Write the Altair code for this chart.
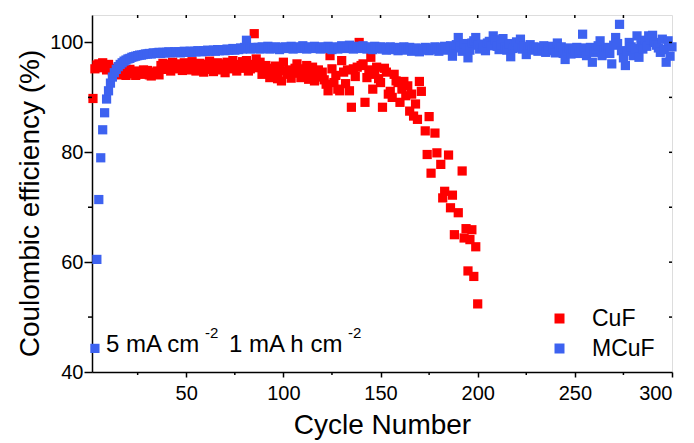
import altair as alt
import pandas as pd

FONT = "Liberation Sans"

# ---------------- data ----------------
# CuF: cycles 2..149 consecutive, then explicit cycles for the failing tail
cuf_a = [89.8]                                                       # 2
cuf_b = [95.2, 95.9, 96.1, 95.4, 96.3, 95.7, 95.0, 96.0, 95.3]        # 3-11
cuf_c = [94.8, 94.3, 95.0, 94.6, 94.1, 94.9, 94.4, 94.0, 94.7, 95.1,
         94.3, 94.6, 94.0, 94.8, 94.5, 94.2, 95.0, 94.4, 94.9, 94.1,
         93.9, 94.6, 94.3, 94.8, 94.1]                                # 12-36
cuf_d = [95.8, 96.2, 95.1, 96.0, 95.5, 94.8, 96.4, 95.9, 95.2, 96.1,
         95.6, 94.9, 96.3, 95.4, 96.0, 95.0, 96.5, 95.7, 94.8, 95.9,
         96.2, 95.3, 94.6, 96.0, 95.5, 96.6, 95.1, 94.7, 95.8, 96.3,
         95.0, 96.1, 95.6, 94.5, 96.4, 95.2, 95.9, 96.7, 95.3, 94.8,
         96.0, 95.7, 96.5]                                            # 37-79
cuf_e = [95.3, 96.7, 94.8, 95.2, 96.0, 101.6, 97.0, 95.4, 96.4, 94.2,
         95.1, 95.8, 94.6, 93.6, 95.3, 94.0, 95.7, 93.4, 94.9, 93.0,
         96.4]                                                        # 80-100
cuf_f = [94.8, 94.2, 95.0, 93.5, 94.6, 95.3, 96.1, 94.4, 93.6, 95.2,
         94.0, 95.8, 93.3, 94.7, 95.5, 93.0, 94.3, 95.0, 93.7, 94.6,
         93.2, 92.4, 91.2, 97.6, 95.2, 92.7, 94.0, 91.5, 91.2, 96.7]  # 101-130
cuf_g = [94.6, 92.5, 95.0, 91.2, 88.2, 95.2, 93.8, 95.5, 100.0, 95.8,
         96.1, 89.1, 93.6, 95.0, 97.3, 91.5, 94.2, 95.5, 93.4]        # 131-149
cuf_tail_cycles = [150, 151, 152, 153, 154, 155, 156, 157, 158, 159,
                   160, 161, 162, 163, 164, 165, 166, 167, 168, 169,
                   170, 171, 173, 174, 175, 176, 178, 179, 181, 182,
                   183, 185, 186, 187, 188, 190, 192, 193, 194, 195,
                   196, 197, 198, 199, 200]
cuf_tail = [92.7, 88.2, 95.3, 94.6, 90.6, 91.1, 90.0, 94.2, 93.0, 92.7,
            89.1, 91.5, 92.9, 90.3, 92.1, 87.5, 90.6, 86.6, 88.8, 86.0,
            92.9, 91.1, 83.9, 79.6, 86.5, 76.2, 83.5, 79.9, 77.8, 71.7,
            72.9, 79.5, 69.9, 72.2, 65.0, 69.0, 76.6, 64.4, 66.1, 58.4,
            64.1, 65.9, 57.4, 62.8, 52.4]

# MCuF: cycles 3..300 consecutive
mcuf_a = [44.3, 60.5, 71.4, 79.0, 84.1, 87.2, 89.7, 91.2, 92.6, 93.7,
          94.5, 95.1, 95.6, 96.0, 96.3, 96.6, 96.8, 97.0, 97.1, 97.3,
          97.4, 97.5, 97.6, 97.7, 97.7, 97.8, 97.9, 97.9]             # 3-30
mcuf_b = [98.0, 97.9, 98.1, 98.0, 98.1, 98.2, 98.0, 98.2, 98.1, 98.2,
          98.3, 98.1, 98.2, 98.3, 98.2, 98.3, 98.1, 98.3, 98.4, 98.2]  # 31-50
mcuf_c = [98.3, 98.4, 98.2, 98.4, 98.3, 98.5, 98.4, 98.3, 98.5, 98.4,
          98.6, 98.4, 98.5, 98.6, 98.4, 98.7, 98.5, 98.6, 98.7, 98.5,
          98.8, 98.6, 98.7, 98.9, 98.6, 98.8, 98.7, 99.0, 98.8]        # 51-79
mcuf_d = [99.1, 100.4, 99.0, 98.8, 99.1, 98.9]                        # 80-85
mcuf_e = [98.9, 99.1, 98.8, 99.2, 98.9, 99.0, 99.3, 98.8, 99.1, 98.9,
          99.2, 99.0, 98.7, 99.1, 99.0]                               # 86-100
mcuf_f = [99.2, 98.9, 99.1, 99.3, 98.8, 99.0, 99.2, 98.9, 99.1, 99.4,
          99.0, 98.8, 99.2, 99.1, 98.9, 99.3, 99.0, 99.1, 98.8, 99.2]  # 101-120
mcuf_g = [98.9, 99.1, 99.3, 98.9, 98.7, 99.0, 99.2, 98.8, 99.1, 99.4,
          99.0, 98.9, 99.2, 99.5, 99.1, 98.8, 99.3, 99.0, 99.2, 98.9,
          99.4, 99.1, 98.8, 99.2, 99.0, 98.7, 99.3, 99.1, 98.9, 99.2]  # 121-150
mcuf_h = [98.8, 99.1, 98.6, 99.0, 99.2, 98.7, 98.9, 99.1, 98.5, 99.0,
          98.8, 99.2, 98.6, 98.9, 99.1, 98.4, 98.8, 99.0, 98.7, 98.3,
          98.9, 98.6, 99.1, 98.8, 98.5, 99.0, 98.7, 99.2, 98.9, 98.4,
          99.1, 98.8, 99.3, 98.6, 98.9, 99.4]                         # 151-186
mcuf_i = [97.5, 99.0, 99.6, 100.9, 99.3, 98.4, 99.8, 98.9, 97.2, 98.6,
          99.9, 100.3, 100.9, 99.5, 98.8, 99.7, 99.0, 98.5, 99.9, 100.2,
          99.4, 101.2, 100.5, 99.3, 98.7, 99.6, 100.7, 99.1, 98.6, 99.8,
          97.4, 98.9, 99.5, 100.1, 99.0, 100.6, 98.8, 99.3, 97.8, 99.0,
          99.6, 98.6, 99.2, 98.9]                                     # 187-230
mcuf_j = [98.4, 99.1, 98.7, 99.4, 98.2, 99.0, 98.5, 99.3, 98.8, 98.1,
          99.9, 98.6, 99.2, 98.0, 96.9, 98.4, 99.0, 97.9, 98.8, 98.3,
          99.1, 98.0, 98.7, 101.5, 99.0, 97.6, 98.5, 99.1, 96.4, 98.2,
          98.8, 99.4, 100.3, 97.6, 98.6, 99.0, 99.1, 98.0, 96.1, 99.5,
          100.9, 99.8, 103.3, 98.5, 97.2, 95.8, 98.4, 100.0, 99.2, 97.6,
          98.9, 101.2, 97.3, 99.6, 98.8, 100.4, 99.3, 101.2, 100.5, 101.3,
          100.0, 99.5, 99.0, 98.2, 100.6, 98.7, 96.4, 100.3, 97.5, 99.2]  # 231-300

series_names = ["CuF", "MCuF"]
series_colors = ["#ff0000", "#3d62f0"]

x_ticks_major = [50, 100, 150, 200, 250, 300]
x_ticks_minor = [25, 75, 125, 175, 225, 275]
x_ticks_top = [25, 50, 75, 100, 125, 150, 175, 200, 225, 250, 275]
y_ticks_major = [40, 60, 80, 100]
y_ticks_minor = [50, 70, 90]
y_ticks_right = [50, 60, 70, 80, 90, 100]

# ---------------- tables ----------------
cuf_vals = cuf_a + cuf_b + cuf_c + cuf_d + cuf_e + cuf_f + cuf_g + cuf_tail
cuf_cyc = list(range(2, 150)) + cuf_tail_cycles
mcuf_vals = (mcuf_a + mcuf_b + mcuf_c + mcuf_d + mcuf_e + mcuf_f + mcuf_g
             + mcuf_h + mcuf_i + mcuf_j)
mcuf_cyc = list(range(3, 3 + len(mcuf_vals)))

df = pd.DataFrame(
    [{"series": "CuF", "cycle": c, "ce": v} for c, v in zip(cuf_cyc, cuf_vals)]
    + [{"series": "MCuF", "cycle": c, "ce": v} for c, v in zip(mcuf_cyc, mcuf_vals)]
)

W, H = 580, 357
xscale = alt.Scale(domain=[1.5, 300], nice=False, zero=False)
yscale = alt.Scale(domain=[40, 105], nice=False, zero=False)

axis_common = dict(grid=False, domainColor="black", tickColor="black",
                   domainWidth=1.5, tickWidth=1.5, labelColor="black",
                   titleColor="black", labelFont=FONT, titleFont=FONT,
                   titleFontWeight="normal")
x_axis = alt.Axis(values=x_ticks_major, tickSize=5, labelFontSize=20,
                  labelPadding=6, title="Cycle Number", titleFontSize=28,
                  titleY=61, titleBaseline="alphabetic", **axis_common)
y_axis = alt.Axis(values=y_ticks_major, tickSize=8, labelFontSize=20,
                  labelPadding=1, title="Coulombic efficiency (%)",
                  titleFontSize=28, titleX=-54, titleY=188,
                  titleAlign="center", titleBaseline="alphabetic",
                  **axis_common)

points = alt.Chart(df).mark_point(
    shape="square", filled=True, size=85, opacity=1, strokeWidth=0
).encode(
    x=alt.X("cycle:Q", scale=xscale, axis=x_axis, title="Cycle Number"),
    y=alt.Y("ce:Q", scale=yscale, axis=y_axis, title="Coulombic efficiency (%)"),
    color=alt.Color("series:N",
                    scale=alt.Scale(domain=series_names, range=series_colors),
                    legend=alt.Legend(orient="none", legendX=456, legendY=292,
                                      title=None, symbolType="square",
                                      symbolSize=100, symbolStrokeWidth=0,
                                      labelFontSize=23, labelFont=FONT,
                                      labelColor="black", labelOffset=21,
                                      rowPadding=6, padding=0)),
)

df_xmin = pd.DataFrame({"t": x_ticks_minor})
df_xtop = pd.DataFrame({"t": x_ticks_top})
df_ymin = pd.DataFrame({"t": y_ticks_minor})
df_yright = pd.DataFrame({"t": y_ticks_right})

rule_style = dict(color="black", strokeWidth=1.5)
x_minor = alt.Chart(df_xmin).mark_rule(**rule_style).encode(
    x=alt.X("t:Q", scale=xscale, axis=x_axis, title="Cycle Number"),
    y=alt.value(H), y2=alt.value(H + 3))
x_top = alt.Chart(df_xtop).mark_rule(**rule_style).encode(
    x=alt.X("t:Q", scale=xscale, axis=x_axis, title="Cycle Number"),
    y=alt.value(0), y2=alt.value(3))
y_minor = alt.Chart(df_ymin).mark_rule(**rule_style).encode(
    y=alt.Y("t:Q", scale=yscale, axis=y_axis, title="Coulombic efficiency (%)"),
    x=alt.value(-4), x2=alt.value(0))
y_right = alt.Chart(df_yright).mark_rule(**rule_style).encode(
    y=alt.Y("t:Q", scale=yscale, axis=y_axis, title="Coulombic efficiency (%)"),
    x=alt.value(W - 3), x2=alt.value(W))

txt = dict(font=FONT, color="black", align="left", baseline="alphabetic")
ann1 = alt.Chart().mark_text(text="5 mA cm", fontSize=24, **txt).encode(
    x=alt.value(14), y=alt.value(337))
ann2 = alt.Chart().mark_text(text="-2", fontSize=15, **txt).encode(
    x=alt.value(113), y=alt.value(323))
ann3 = alt.Chart().mark_text(text="1 mA h cm", fontSize=24, **txt).encode(
    x=alt.value(137), y=alt.value(337))
ann4 = alt.Chart().mark_text(text="-2", fontSize=15, **txt).encode(
    x=alt.value(256), y=alt.value(323))

chart = alt.layer(
    points, x_minor, x_top, y_minor, y_right, ann1, ann2, ann3, ann4
).properties(
    width=W, height=H,
    padding={"left": 92, "top": 15, "right": 22, "bottom": 71},
    autosize=alt.AutoSizeParams(type="none"),
).configure_view(
    stroke="black", strokeWidth=1.5
).configure(background="white")

chart.save("out.html", embed_options={"renderer": "svg", "actions": False})
